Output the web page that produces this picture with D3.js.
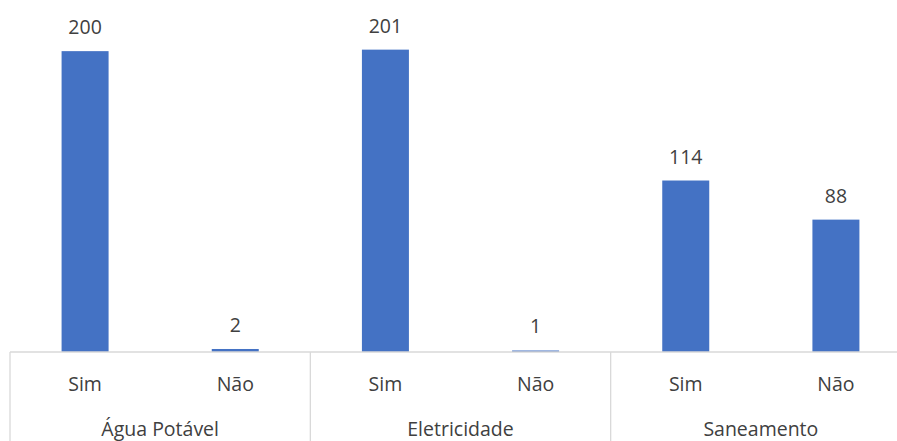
<!DOCTYPE html>
<html>
<head>
<meta charset="utf-8">
<script src="https://cdn.jsdelivr.net/npm/d3@7"></script>
<style>
  body { margin: 0; background: #fff; }
  svg text { font-family: "Open Sans", sans-serif; fill: #404040; }
</style>
</head>
<body>
<div id="graphic"></div>
<script>
(function() {

// chart values
var groups = ['Água Potável', 'Eletricidade', 'Saneamento'];
var answers = ['Sim', 'Não'];
var simValues = [200, 201, 114];
var naoValues = [2, 1, 88];

var w = 897, h = 441;
var left = 10, right = 911, baseY = 352;

// one row per bar
var data = [];
groups.forEach(function(g, i) {
  data.push({key: g + '|Sim', group: g, answer: answers[0], value: simValues[i]});
  data.push({key: g + '|Não', group: g, answer: answers[1], value: naoValues[i]});
});

var svg = d3.select('#graphic')
  .append('svg')
  .attr('width', w)
  .attr('height', h);

// sub-category bands
var x = d3.scaleBand()
  .domain(data.map(function(d) { return d.key; }))
  .range([left, right])
  .paddingInner(0.687)
  .paddingOuter(0.3435);

// group bands
var xg = d3.scaleBand()
  .domain(groups)
  .range([left, right]);

var y = d3.scaleLinear().domain([0, 234]).range([baseY, 0]);

// bars
svg.selectAll('.bar')
  .data(data)
  .enter().append('rect')
  .attr('class', 'bar')
  .attr('x', function(d) { return x(d.key); })
  .attr('width', x.bandwidth())
  .attr('y', function(d) { return y(d.value); })
  .attr('height', function(d) { return Math.max(y(0) - y(d.value), 0); })
  .attr('fill', '#4472C4');

// value labels
svg.selectAll('.val')
  .data(data)
  .enter().append('text')
  .attr('class', 'val')
  .attr('x', function(d) { return x(d.key) + x.bandwidth() / 2; })
  .attr('y', function(d) { return y(d.value) - 17; })
  .attr('text-anchor', 'middle')
  .style('font-size', '19.5px')
  .text(function(d) { return d.value; });

// sub-category axis (Sim / Não)
var subAxis = svg.append('g')
  .attr('transform', 'translate(0,' + baseY + ')')
  .call(d3.axisBottom(x)
    .tickSize(0)
    .tickPadding(25)
    .tickFormat(function(k) { return k.split('|')[1]; }));
subAxis.select('.domain').remove();
subAxis.selectAll('text')
  .style('font-size', '19.5px')
  .attr('fill', '#404040');

// group axis
var groupAxis = svg.append('g')
  .attr('transform', 'translate(0,' + baseY + ')')
  .call(d3.axisBottom(xg)
    .tickSize(0)
    .tickPadding(70));
groupAxis.select('.domain').remove();
groupAxis.selectAll('text')
  .style('font-size', '19.5px')
  .attr('fill', '#404040');

// baseline
svg.append('line')
  .attr('x1', left).attr('x2', right)
  .attr('y1', baseY).attr('y2', baseY)
  .attr('stroke', '#d9d9d9')
  .attr('stroke-width', 1.3);

// group separators
var seps = groups.map(function(g) { return xg(g); }).concat([right]);
svg.selectAll('.sep')
  .data(seps)
  .enter().append('line')
  .attr('class', 'sep')
  .attr('x1', function(d) { return d; })
  .attr('x2', function(d) { return d; })
  .attr('y1', baseY)
  .attr('y2', h)
  .attr('stroke', '#d9d9d9')
  .attr('stroke-width', 1.3);

})();
</script>
</body>
</html>
